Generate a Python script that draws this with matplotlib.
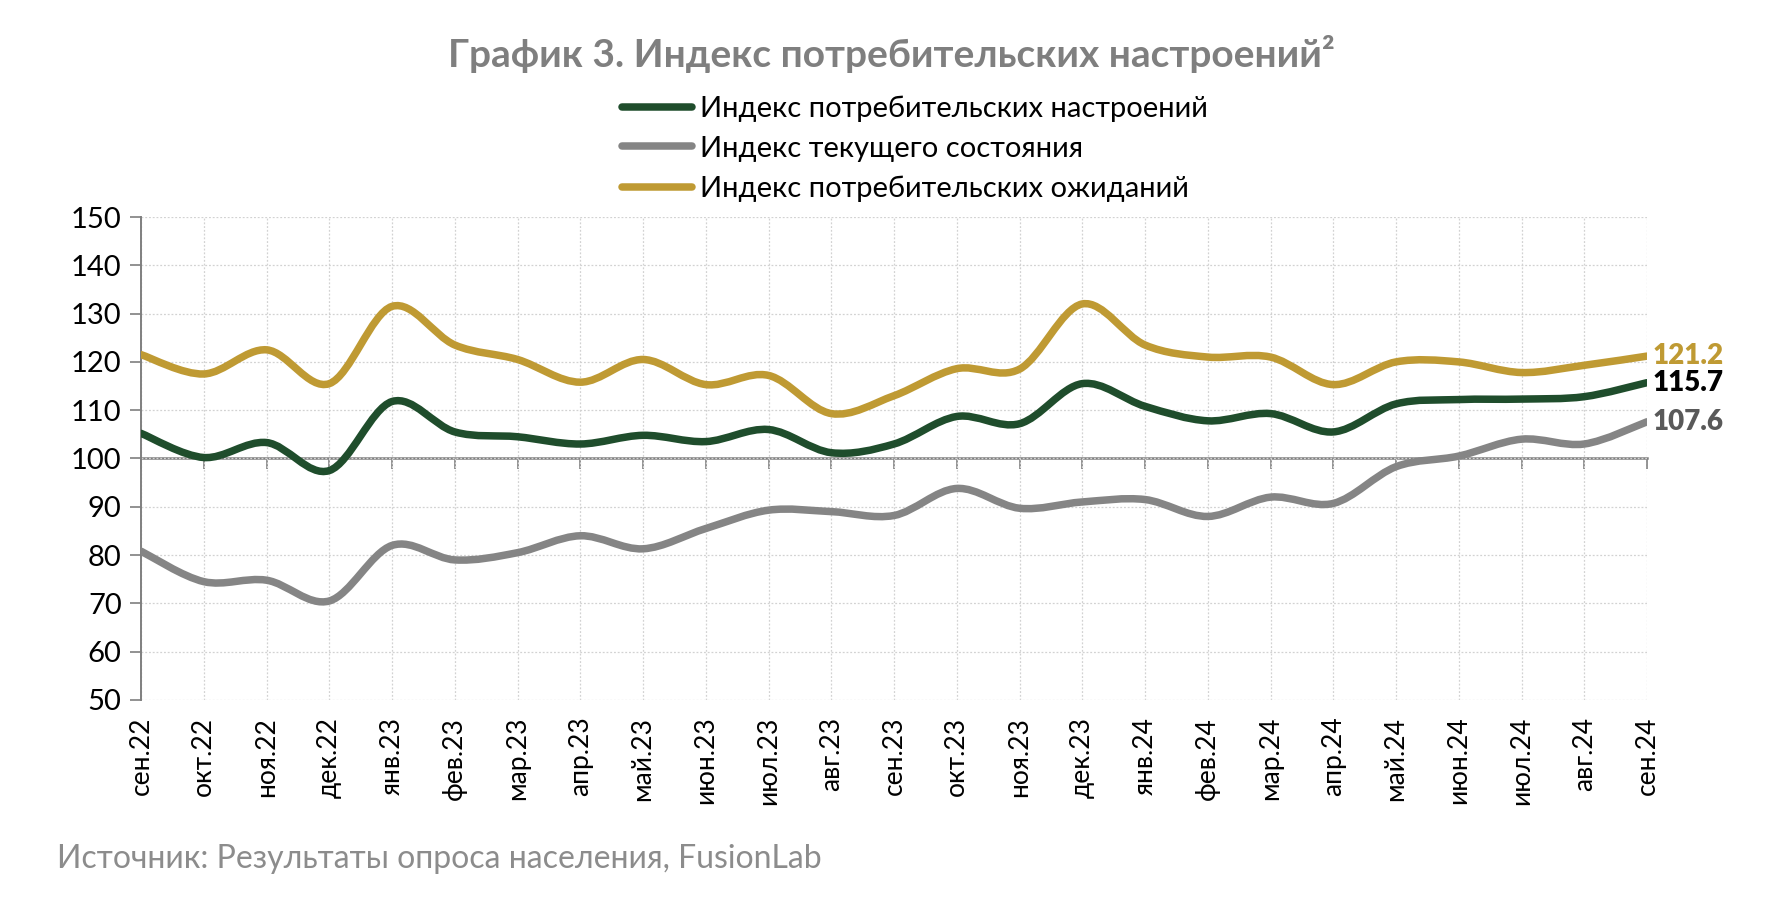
import numpy as np
import matplotlib
matplotlib.use("Agg")
import matplotlib.pyplot as plt
from matplotlib.path import Path
from matplotlib.patches import PathPatch
from matplotlib.lines import Line2D

plt.rcParams["font.family"] = ["Lato", "DejaVu Sans"]

months = [
    "сен.22", "окт.22", "ноя.22", "дек.22", "янв.23", "фев.23", "мар.23",
    "апр.23", "май.23", "июн.23", "июл.23", "авг.23", "сен.23", "окт.23",
    "ноя.23", "дек.23", "янв.24", "фев.24", "мар.24", "апр.24", "май.24",
    "июн.24", "июл.24", "авг.24", "сен.24",
]

# Индекс потребительских настроений
sentiment = [105.2, 100.2, 103.3, 97.5, 111.8, 105.5, 104.5, 103.0, 104.8,
             103.5, 106.0, 101.2, 103.0, 108.7, 107.2, 115.5, 110.8, 107.8,
             109.3, 105.5, 111.3, 112.2, 112.3, 112.8, 115.7]
# Индекс текущего состояния
current = [80.8, 74.5, 74.8, 70.5, 82.0, 79.0, 80.5, 84.0, 81.3, 85.5, 89.3,
           89.0, 88.2, 93.8, 89.7, 91.0, 91.5, 88.0, 92.0, 90.7, 98.3, 100.5,
           104.0, 103.0, 107.6]
# Индекс потребительских ожиданий
expectations = [121.5, 117.5, 122.5, 115.5, 131.5, 123.5, 120.5, 115.8, 120.5,
                115.3, 117.2, 109.3, 113.0, 118.6, 118.5, 132.0, 123.5, 121.0,
                121.0, 115.3, 120.0, 120.0, 117.8, 119.3, 121.2]

series_names = [
    "Индекс потребительских настроений",
    "Индекс текущего состояния",
    "Индекс потребительских ожиданий",
]

GREEN = "#1f4d2c"
GREY = "#858585"
GOLD = "#bf9a33"


def smooth_path(xs, ys):
    # excel-style smoothed line: catmull-rom segments as cubic beziers
    pts = np.column_stack([xs, ys]).astype(float)
    ext = np.vstack([pts[0], pts, pts[-1]])
    verts = [pts[0]]
    codes = [Path.MOVETO]
    for i in range(len(pts) - 1):
        p0, p1, p2, p3 = ext[i], ext[i + 1], ext[i + 2], ext[i + 3]
        c1 = p1 + (p2 - p0) / 6.0
        c2 = p2 - (p3 - p1) / 6.0
        verts += [c1, c2, p2]
        codes += [Path.CURVE4] * 3
    return Path(verts, codes)


fig = plt.figure(figsize=(17.79, 9.18), dpi=100)
ax = fig.add_axes([0.0793, 0.2375, 0.8465, 0.5261])

x = np.arange(len(months))
for ys, col in [(current, GREY), (sentiment, GREEN), (expectations, GOLD)]:
    ax.add_patch(PathPatch(smooth_path(x, ys), fill=False, edgecolor=col,
                           lw=5.4, capstyle="round", joinstyle="round", zorder=3))

ax.set_xlim(0, len(months) - 1)
ax.set_ylim(50, 150)
ax.set_yticks(range(50, 151, 10))
ax.set_xticks(x)
ax.set_xticklabels(months, rotation=90, va="top", ha="center", fontsize=19)
ax.tick_params(axis="x", length=0, pad=12)
ax.tick_params(axis="y", length=8, width=1.2, color="#7f7f7f", labelsize=21, pad=6)
ax.grid(True, ls=(0, (1.5, 1.5)), color="#d2d2d2", lw=0.9, zorder=0)

for s in ["top", "right", "bottom"]:
    ax.spines[s].set_visible(False)
ax.spines["left"].set_color("#7f7f7f")
ax.spines["left"].set_linewidth(1.4)

# category axis crosses at 100
sec = ax.secondary_xaxis(0.49999)
sec.set_xticks(x)
sec.tick_params(axis="x", direction="out", length=8, width=1.2, color="#7f7f7f",
                labelbottom=False, labeltop=False)
sec.spines["bottom"].set_visible(True)
sec.spines["bottom"].set_color("#7f7f7f")
sec.spines["bottom"].set_linewidth(1.8)

# end-point labels
last = len(months) - 1
for ys, col in [(expectations, GOLD), (sentiment, "#000000"), (current, "#595959")]:
    ax.annotate(f"{ys[-1]:.1f}", (last, ys[-1]), xytext=(4, 0),
                textcoords="offset points", ha="left", va="center",
                fontsize=20, fontweight="heavy", color=col, annotation_clip=False)

handles = [Line2D([], [], color=c, lw=5.4, solid_capstyle="round")
           for c in [GREEN, GREY, GOLD]]
fig.legend(handles, series_names, loc="upper left", bbox_to_anchor=(0.3495, 0.896),
           frameon=False, fontsize=21, handlelength=2.4, handletextpad=0.27,
           labelspacing=0.47, borderpad=0, borderaxespad=0)

fig.text(0.501, 0.941, "График 3. Индекс потребительских настроений²",
         ha="center", va="center", fontsize=28, fontweight="bold", color="#7f7f7f")
fig.text(0.032, 0.064, "Источник: Результаты опроса населения, FusionLab",
         ha="left", va="center", fontsize=23, color="#8c8c8c")

fig.savefig("out.png", dpi=100, facecolor="white")
